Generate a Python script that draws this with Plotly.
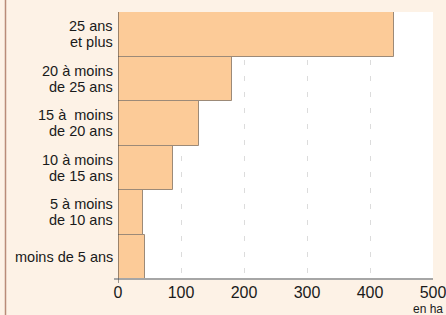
import plotly.graph_objects as go

categories = ["moins de 5 ans", "5 à moins<br>de 10 ans", "10 à moins<br>de 15 ans",
              "15 à\u00a0 moins<br>de 20 ans", "20 à moins<br>de 25 ans", "25 ans<br>et plus"]
values = [43, 40, 88, 128, 181, 438]
x_ticks = [0, 100, 200, 300, 400, 500]

FONT = "Liberation Sans, Arial, sans-serif"
W, H = 446, 315
ML, MR, MT, MB = 118, 13, 12, 36
PW, PH = W - ML - MR, H - MT - MB

fig = go.Figure(go.Bar(
    x=values, y=list(range(len(categories))), orientation="h",
    width=1,
    marker=dict(color="#FCCB98", line=dict(color="#9C8A78", width=1)),
    hoverinfo="skip",
))

# category labels, one annotation per line for tight leading
PITCH = 16
for i, cat in enumerate(categories):
    lines = cat.split("<br>")
    n = len(lines)
    for j, ln in enumerate(lines):
        shift = (n - 1) / 2 * PITCH - j * PITCH
        fig.add_annotation(x=0, y=i, xref="paper", yref="y", text=ln,
                           showarrow=False, xanchor="right", yanchor="middle",
                           xshift=-4, yshift=shift, borderpad=0,
                           font=dict(family=FONT, size=14.5, color="#1a1a1a"))

fig.add_annotation(x=1, y=0, xref="paper", yref="paper", text="en ha",
                   showarrow=False, xanchor="center", yanchor="top",
                   xshift=-5, yshift=-22, borderpad=0,
                   font=dict(family=FONT, size=12, color="#1a1a1a"))

# left border of the panel
fig.add_shape(type="line", xref="paper", yref="paper",
              x0=(5.5 - ML) / PW, x1=(5.5 - ML) / PW, y0=-MB / PH, y1=1 + MT / PH,
              line=dict(color="#B98B78", width=1.5))
# x axis baseline
fig.add_shape(type="line", xref="paper", yref="paper",
              x0=-4 / PW, x1=1, y0=0, y1=0,
              line=dict(color="#A6A6A6", width=2))
# y axis line
fig.add_shape(type="line", xref="x", yref="paper",
              x0=0, x1=0, y0=-4 / PH, y1=1,
              line=dict(color="#3a3a3a", width=1))

fig.update_layout(
    width=W, height=H,
    margin=dict(l=ML, r=MR, t=MT, b=MB),
    paper_bgcolor="#FDF2E6", plot_bgcolor="#FFFFFF",
    showlegend=False, bargap=0,
    font=dict(family=FONT, size=16, color="#1a1a1a"),
    xaxis=dict(range=[0, 500], tickvals=x_ticks, ticks="", showline=False,
               showgrid=True, gridcolor="#DCDCDC", gridwidth=1, griddash="5px,11px",
               zeroline=False, tickfont=dict(size=16), ticklabelstandoff=2,
               ticklabeloverflow="allow", automargin=False, fixedrange=True),
    yaxis=dict(range=[-0.5, 5.5], showticklabels=False, showgrid=False,
               zeroline=False, showline=False, ticks="", automargin=False,
               fixedrange=True),
)

fig.write_html("out.html", config={"displayModeBar": False},
               post_script="document.body.style.margin='0';document.body.style.overflow='hidden';")
